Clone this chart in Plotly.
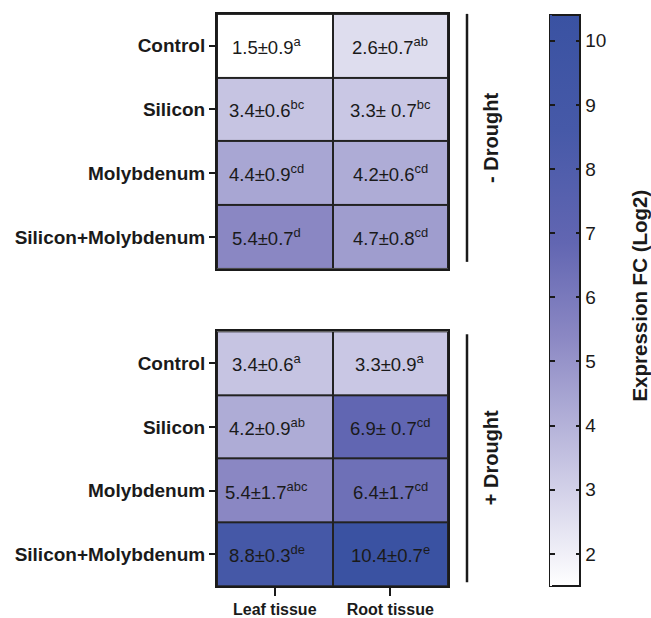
import plotly.graph_objects as go

# Treatments (rows) and tissues (columns)
treatments = ["Control", "Silicon", "Molybdenum", "Silicon+Molybdenum"]
tissues = ["Leaf tissue", "Root tissue"]

# Expression fold change (log2), mean per treatment x tissue
mean_no_drought = [[1.5, 2.6], [3.4, 3.3], [4.4, 4.2], [5.4, 4.7]]
sd_no_drought = [["0.9", "0.7"], ["0.6", " 0.7"], ["0.9", "0.6"], ["0.7", "0.8"]]
letters_no_drought = [["a", "ab"], ["bc", "bc"], ["cd", "cd"], ["d", "cd"]]

mean_drought = [[3.4, 3.3], [4.2, 6.9], [5.4, 6.4], [8.8, 10.4]]
sd_drought = [["0.6", "0.9"], ["0.9", " 0.7"], ["1.7", "1.7"], ["0.3", "0.7"]]
letters_drought = [["a", "a"], ["ab", "cd"], ["abc", "cd"], ["de", "e"]]

cbar_ticks = [2, 3, 4, 5, 6, 7, 8, 9, 10]
zmin, zmax = 1.5, 10.4

colorscale = [
    [0.0, "#ffffff"],
    [0.2, "#cac8e4"],
    [0.44, "#8a87c3"],
    [0.6, "#6266b2"],
    [0.8, "#4659a8"],
    [1.0, "#3a52a2"],
]

FONT = "Liberation Sans, Arial, sans-serif"
INK = "#1a1a1a"
W, H = 651, 618


def px_x(v):
    return v / W


def px_y(v):
    return 1 - v / H


fig = go.Figure()

fig.add_trace(go.Heatmap(
    z=mean_no_drought, x=tissues, y=treatments,
    coloraxis="coloraxis", xgap=2, ygap=2,
    xaxis="x", yaxis="y", hoverinfo="skip",
))
fig.add_trace(go.Heatmap(
    z=mean_drought, x=tissues, y=treatments,
    coloraxis="coloraxis2", xgap=2, ygap=2,
    xaxis="x2", yaxis="y2", hoverinfo="skip",
))

# Cell labels: mean ± sd with significance letters
annotations = []
for means, sds, lets, xr, yr in [
    (mean_no_drought, sd_no_drought, letters_no_drought, "x", "y"),
    (mean_drought, sd_drought, letters_drought, "x2", "y2"),
]:
    for i, t in enumerate(treatments):
        for j, tis in enumerate(tissues):
            annotations.append(dict(
                x=tis, y=t, xref=xr, yref=yr, showarrow=False,
                text=f"{means[i][j]}±{sds[i][j]}<sup>{lets[i][j]}</sup>",
                font=dict(family=FONT, size=18.5, color=INK),
                xshift=-8 if j == 0 else 0,
            ))

# Group labels next to the vertical brackets
bar_x = px_x(467)
groups = [("- Drought", 14, 264), ("+ Drought", 337, 587)]
shapes = []
for label, top, bot in groups:
    shapes.append(dict(type="line", xref="paper", yref="paper",
                       x0=bar_x, x1=bar_x, y0=px_y(top), y1=px_y(bot),
                       line=dict(color=INK, width=2.5)))
    annotations.append(dict(
        x=px_x(491), y=px_y((top + bot) / 2), xref="paper", yref="paper",
        xanchor="center", yanchor="middle",
        text=f"<b>{label}</b>", textangle=-90, showarrow=False,
        font=dict(family=FONT, size=20, color=INK),
    ))

# Colorbar title
annotations.append(dict(
    x=px_x(640), y=px_y(298), xref="paper", yref="paper",
    xanchor="center", yanchor="middle",
    text="<b>Expression FC (Log2)</b>", textangle=-90, showarrow=False,
    font=dict(family=FONT, size=20.5, color=INK),
))

cb_common = dict(
    thicknessmode="pixels",
    len=(591 - 15) / H, lenmode="fraction",
    xanchor="left", xref="paper", xpad=0, ypad=0,
    y=px_y(303), yanchor="middle", yref="paper",
    tickmode="array", tickvals=cbar_ticks,
    ticklen=5, tickwidth=1.5, tickcolor=INK,
)

x_dom = [px_x(217), px_x(448)]
axis_line = dict(showline=True, mirror=True, linecolor=INK, linewidth=2,
                 showgrid=False, zeroline=False, type="category")
ytick_style = dict(ticks="outside", ticklen=6, tickwidth=1.5, tickcolor=INK,
                   tickfont=dict(family=FONT, size=19, color=INK),
                   autorange="reversed")

fig.update_layout(
    width=W, height=H,
    margin=dict(l=0, r=0, t=0, b=0),
    paper_bgcolor="white",
    plot_bgcolor="#222222",
    showlegend=False,
    font=dict(family=FONT, color=INK),
    xaxis=dict(domain=x_dom, anchor="y", showticklabels=False, ticks="",
               **axis_line),
    yaxis=dict(domain=[px_y(271), px_y(14)], anchor="x", **axis_line,
               **ytick_style),
    xaxis2=dict(domain=x_dom, anchor="y2", ticks="outside", ticklen=8,
                tickwidth=1.5, tickcolor=INK,
                tickfont=dict(family=FONT, size=16, color=INK),
                **axis_line),
    yaxis2=dict(domain=[px_y(591), px_y(334)], anchor="x2", **axis_line,
                **ytick_style),
    # main colour bar: ticks on its right edge, labels to the right
    coloraxis=dict(
        colorscale=colorscale, cmin=zmin, cmax=zmax,
        colorbar=dict(**cb_common, x=px_x(550), thickness=30,
                      outlinecolor=INK, outlinewidth=2, ticks="inside",
                      showticklabels=True,
                      tickfont=dict(family=FONT, size=19, color=INK)),
    ),
    # zero-width companion bar on the left edge that supplies the left ticks
    coloraxis2=dict(
        colorscale=colorscale, cmin=zmin, cmax=zmax,
        colorbar=dict(**cb_common, x=px_x(550), thickness=0,
                      outlinewidth=0, ticks="outside",
                      showticklabels=False),
    ),
    annotations=annotations,
    shapes=shapes,
)

# Bold category labels
fig.update_yaxes(ticktext=[f"<b>{t}</b>" for t in treatments],
                 tickvals=treatments)
fig.update_xaxes(ticktext=[f"<b>{t}</b>" for t in tissues], tickvals=tissues)

fig.write_html("out.html")
